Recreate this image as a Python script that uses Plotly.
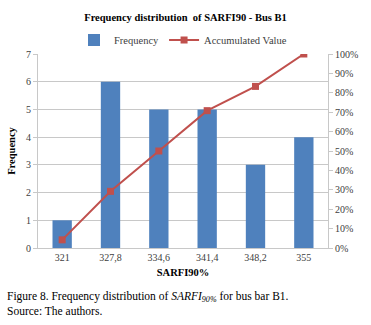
import plotly.graph_objects as go

categories = ["321", "327,8", "334,6", "341,4", "348,2", "355"]
frequency = [1, 6, 5, 5, 3, 4]
accumulated = [0.042, 0.292, 0.50, 0.708, 0.833, 1.0]

BLUE = "#4F81BD"
RED = "#C0504D"
FONT = "Liberation Serif"
GRID = "#C8C8C8"
TXT = "#404040"

fig = go.Figure()
fig.add_trace(go.Bar(x=categories, y=frequency, name="Frequency",
                     marker=dict(color=BLUE, line=dict(width=0)), yaxis="y"))
fig.add_trace(go.Scatter(x=categories, y=accumulated, name="Accumulated Value",
                         mode="lines+markers", yaxis="y2",
                         line=dict(color=RED, width=2),
                         marker=dict(symbol="square", size=7, color=RED)))

fig.update_layout(
    width=371, height=325,
    margin=dict(l=38, r=43, t=54, b=77, autoexpand=False),
    paper_bgcolor="white", plot_bgcolor="white",
    font=dict(family=FONT, size=10, color=TXT),
    title=dict(text="<b>Frequency distribution  of SARFI90 - Bus B1</b>",
               x=0.5, xanchor="center", y=1 - 17 / 325, yanchor="middle",
               font=dict(family=FONT, size=10.5, color="#000000")),
    bargap=0.6,
    showlegend=True,
    legend=dict(orientation="h", x=0.5, xanchor="center", y=1.072, yanchor="middle",
                font=dict(family=FONT, size=10.5, color=TXT), bgcolor="rgba(0,0,0,0)",
                itemwidth=30, tracegroupgap=0),
    xaxis=dict(type="category", showgrid=False, showline=True, linecolor=GRID,
               ticks="", tickfont=dict(family=FONT, size=10, color=TXT), automargin=False,
               title=dict(text="<b>SARFI90%</b>", standoff=6,
                          font=dict(family=FONT, size=10.5, color="#000000")),
               zeroline=False),
    yaxis=dict(range=[0, 7], dtick=1, showgrid=True, gridcolor=GRID, gridwidth=1,
               showline=True, linecolor=GRID, ticks="outside", ticklen=4, tickcolor=GRID,
               tickfont=dict(family=FONT, size=10, color=TXT), zeroline=False, automargin=False,
               title=dict(text="<b>Frequency</b>", standoff=8,
                          font=dict(family=FONT, size=10.5, color="#000000"))),
    yaxis2=dict(range=[0, 1], dtick=0.1, tickformat=".0%", overlaying="y", side="right",
                showgrid=False, showline=True, linecolor=GRID, ticks="outside", ticklen=4,
                tickcolor=GRID, tickfont=dict(family=FONT, size=10, color=TXT),
                zeroline=False, automargin=False),
)

fig.add_annotation(text="Figure 8. Frequency distribution of <i>SARFI</i><sub><i>90%</i></sub> for bus bar B1.",
                   xref="paper", yref="paper", x=-0.115, y=-0.253, xanchor="left", yanchor="middle",
                   showarrow=False, font=dict(family=FONT, size=11.5, color="#000000"))
fig.add_annotation(text="Source: The authors.",
                   xref="paper", yref="paper", x=-0.115, y=-0.325, xanchor="left", yanchor="middle",
                   showarrow=False, font=dict(family=FONT, size=11.5, color="#000000"))

fig.write_html("out.html", config={"displayModeBar": False},
               post_script="document.body.style.margin='0';document.body.style.overflow='hidden';")
